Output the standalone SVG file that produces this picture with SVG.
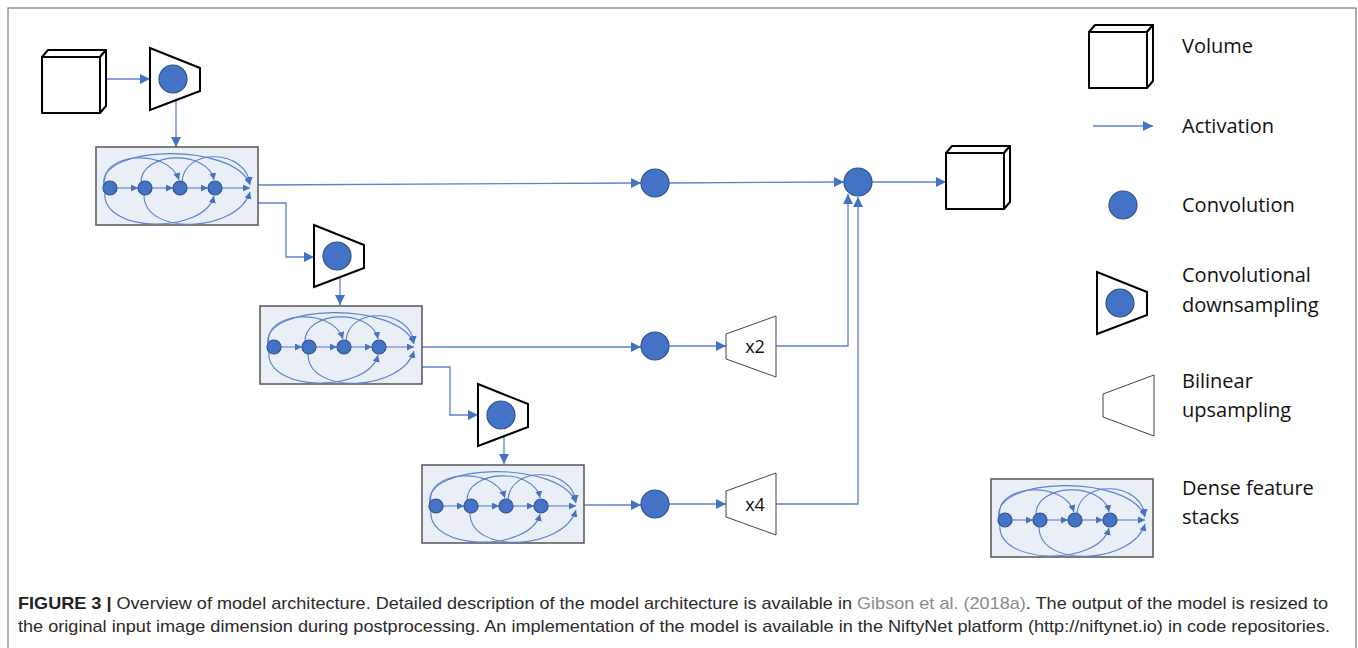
<svg xmlns="http://www.w3.org/2000/svg" xmlns:xlink="http://www.w3.org/1999/xlink" width="1358" height="648" viewBox="0 0 1358 648">
<style>
.conn{fill:none;stroke:#5b82cf;stroke-width:1.3}
.dl{fill:none;stroke:#5b82cf;stroke-width:1.1}
.conv{fill:#4472c4;stroke:#2f528f;stroke-width:1.2}
.vol{fill:#fff;stroke:#000;stroke-width:2;stroke-linejoin:round}
.down{fill:#fff;stroke:#000;stroke-width:2;stroke-linejoin:miter}
.up{fill:#fff;stroke:#444;stroke-width:1}
.stack{fill:#e9eef7;stroke:#555;stroke-width:1.5}
.leg{font-family:"Open Sans","Noto Sans",sans-serif;font-size:20px;fill:#111}
.xl{font-family:"Open Sans","Noto Sans",sans-serif;font-size:18px;fill:#111;text-anchor:middle}
.cap{font-family:"Liberation Sans",Arial,sans-serif;font-size:17px;fill:#2a2a2a}
</style>
<defs>
<marker id="ah" viewBox="0 0 10 10" refX="10" refY="5" markerWidth="11" markerHeight="10" markerUnits="userSpaceOnUse" orient="auto"><path d="M0,0 L10,5 L0,10 z" fill="#4472c4"/></marker>
<marker id="as" viewBox="0 0 10 10" refX="10" refY="5" markerWidth="7" markerHeight="7" markerUnits="userSpaceOnUse" orient="auto"><path d="M0,0 L10,5 L0,10 z" fill="#4472c4"/></marker>
<g id="dense">
<rect class="stack" x="0" y="0" width="162" height="78"/>
<path class="dl" d="M21,41 H42" marker-end="url(#as)"/>
<path class="dl" d="M56,41 H77" marker-end="url(#as)"/>
<path class="dl" d="M91,41 H112" marker-end="url(#as)"/>
<path class="dl" d="M126,41 H154" marker-end="url(#as)"/>
<path class="dl" d="M9,37 C3,6 72,0 83,33" marker-end="url(#as)"/>
<path class="dl" d="M8,39 C0,-3 140,-5 154,38" marker-end="url(#as)"/>
<path class="dl" d="M45,36 C44,4 112,2 118,33" marker-end="url(#as)"/>
<path class="dl" d="M86,35 C88,0 150,2 154,37" marker-end="url(#as)"/>
<path class="dl" d="M9,45 C4,86 108,88 118,49" marker-end="url(#as)"/>
<path class="dl" d="M48,48 C48,90 142,85 154,45" marker-end="url(#as)"/>
<circle class="conv" cx="14" cy="41" r="7"/>
<circle class="conv" cx="49" cy="41" r="7"/>
<circle class="conv" cx="84" cy="41" r="7"/>
<circle class="conv" cx="119" cy="41" r="7"/>
</g>
<g id="dsamp">
<polygon class="down" points="0,0 50,20 50,43 0,62"/>
<circle class="conv" cx="23" cy="31" r="14"/>
</g>
<g id="volume">
<rect class="vol" x="0" y="7" width="58" height="56"/>
<polygon class="vol" points="0,7 6,0 64,0 58,7"/>
<polygon class="vol" points="58,7 64,0 64,56 58,63"/>
</g>
</defs>
<rect x="8" y="8" width="1348" height="660" fill="none" stroke="#777" stroke-width="1.2"/>

<g id="connectors">
<path class="conn" d="M106,79 H150" marker-end="url(#ah)"/>
<path class="conn" d="M176,100 V147" marker-end="url(#ah)"/>
<path class="conn" d="M258,185 L641,183" marker-end="url(#ah)"/>
<path class="conn" d="M669,183 L844,182" marker-end="url(#ah)"/>
<path class="conn" d="M872,182 H946" marker-end="url(#ah)"/>
<path class="conn" d="M258,203 H286 V257 H314" marker-end="url(#ah)"/>
<path class="conn" d="M340,277 V305" marker-end="url(#ah)"/>
<path class="conn" d="M422,347 H641" marker-end="url(#ah)"/>
<path class="conn" d="M422,367 H450 V415 H478" marker-end="url(#ah)"/>
<path class="conn" d="M504,437 V464" marker-end="url(#ah)"/>
<path class="conn" d="M584,505 H641" marker-end="url(#ah)"/>
<path class="conn" d="M669,346 H726" marker-end="url(#ah)"/>
<path class="conn" d="M669,504 H726" marker-end="url(#ah)"/>
<path class="conn" d="M776,346 H848 V194" marker-end="url(#ah)"/>
<path class="conn" d="M776,504 H858 V197" marker-end="url(#ah)"/>
</g>

<g id="input-volume"><use xlink:href="#volume" x="42" y="50"/></g>
<g id="downsample-1"><use xlink:href="#dsamp" x="150" y="48"/></g>
<g id="dense-1"><use xlink:href="#dense" x="96" y="147"/></g>
<g id="downsample-2"><use xlink:href="#dsamp" x="314" y="225"/></g>
<g id="dense-2"><use xlink:href="#dense" x="260" y="306"/></g>
<g id="downsample-3"><use xlink:href="#dsamp" x="478" y="384"/></g>
<g id="dense-3"><use xlink:href="#dense" x="422" y="465"/></g>
<g id="conv-a"><circle class="conv" cx="655" cy="183" r="14"/></g>
<g id="conv-c"><circle class="conv" cx="655" cy="346" r="14"/></g>
<g id="conv-d"><circle class="conv" cx="655" cy="504" r="14"/></g>
<g id="up-x2"><polygon class="up" points="726,334 776,316 776,377 726,359"/><text class="xl" x="755" y="353">x2</text></g>
<g id="up-x4"><polygon class="up" points="726,491 776,473 776,535 726,517"/><text class="xl" x="755" y="511">x4</text></g>
<g id="conv-sum"><circle class="conv" cx="858" cy="182" r="14"/></g>
<g id="output-volume"><use xlink:href="#volume" x="946" y="146"/></g>

<g id="legend">
<use xlink:href="#volume" x="1089" y="25"/>
<text class="leg" x="1182" y="53">Volume</text>
<path class="conn" d="M1093,126 H1153" marker-end="url(#ah)"/>
<text class="leg" x="1182" y="133">Activation</text>
<circle class="conv" cx="1123" cy="205" r="14"/>
<text class="leg" x="1182" y="212">Convolution</text>
<use xlink:href="#dsamp" x="1097" y="272"/>
<text class="leg" x="1182" y="282">Convolutional</text>
<text class="leg" x="1182" y="312">downsampling</text>
<polygon class="up" points="1103,394 1154,375 1154,436 1103,417"/>
<text class="leg" x="1182" y="388">Bilinear</text>
<text class="leg" x="1182" y="417">upsampling</text>
<use xlink:href="#dense" x="991" y="479"/>
<text class="leg" x="1182" y="495">Dense feature</text>
<text class="leg" x="1182" y="524">stacks</text>
</g>

<g id="caption">
<text class="cap" x="18" y="609" textLength="1310" lengthAdjust="spacingAndGlyphs"><tspan font-weight="bold" fill="#222">FIGURE 3 |</tspan> Overview of model architecture. Detailed description of the model architecture is available in <tspan fill="#8a8a8a">Gibson et al. (2018a)</tspan>. The output of the model is resized to</text>
<text class="cap" x="18" y="632" textLength="1312" lengthAdjust="spacingAndGlyphs">the original input image dimension during postprocessing. An implementation of the model is available in the NiftyNet platform (http://niftynet.io) in code repositories.</text>
</g>
</svg>
